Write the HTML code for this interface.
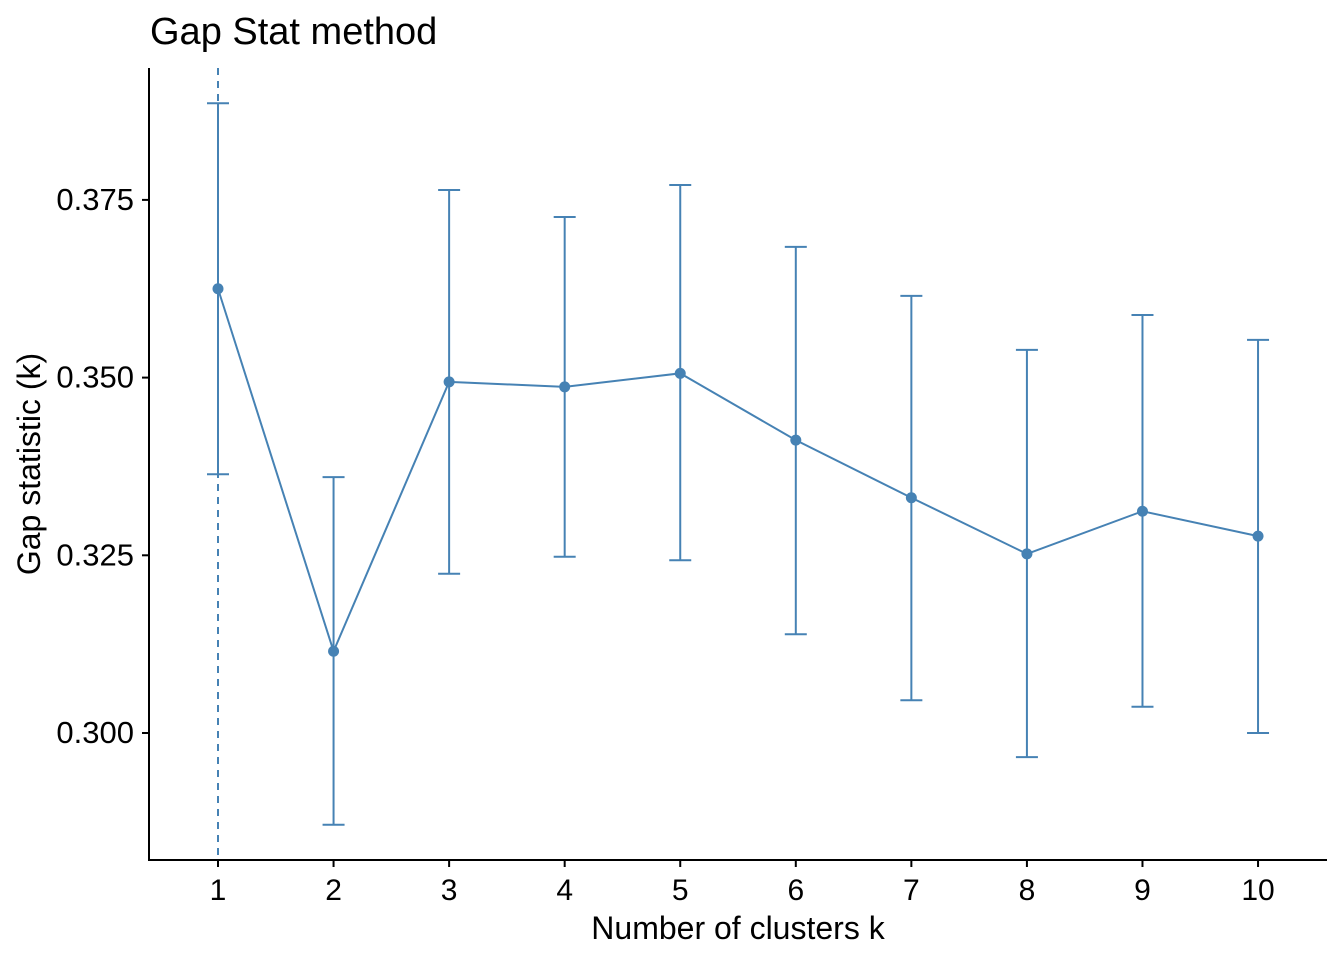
<!DOCTYPE html>
<html><head><meta charset="utf-8"><style>body{margin:0;background:#fff}svg{display:block;font-family:"Liberation Sans",Arial,sans-serif}</style></head>
<body>
<svg id="chart" width="1344" height="960" xmlns="http://www.w3.org/2000/svg">
<text x="150" y="44" font-size="38" fill="#000">Gap Stat method</text>
<g id="marks"></g>
<line x1="149" y1="68" x2="149" y2="861" stroke="#000" stroke-width="2"/>
<line x1="148" y1="860" x2="1327" y2="860" stroke="#000" stroke-width="2"/>
<g id="axes"></g>
<text x="738" y="939" font-size="32" text-anchor="middle">Number of clusters k</text>
<text transform="translate(40,464) rotate(-90)" font-size="32" text-anchor="middle">Gap statistic (k)</text>
</svg>
<script>
const categories=[1,2,3,4,5,6,7,8,9,10];
const gapValues=[0.3625,0.3115,0.3494,0.3487,0.3506,0.3412,0.3331,0.3252,0.3312,0.3277];
const upperValues=[0.3886,0.3360,0.3764,0.3726,0.3771,0.3684,0.3615,0.3539,0.3588,0.3553];
const lowerValues=[0.3364,0.2871,0.3224,0.3248,0.3243,0.3139,0.3046,0.2966,0.3037,0.3000];
const yTicks=[0.300,0.325,0.350,0.375];
const yTickLabels=["0.300","0.325","0.350","0.375"];
const optimalK=1;
const NS="http://www.w3.org/2000/svg";
const xS=k=>218+(k-1)*115.56;
const yS=v=>733-(v-0.300)*7108;
function mk(t,a,p){const e=document.createElementNS(NS,t);for(const k in a)e.setAttribute(k,a[k]);p.appendChild(e);return e;}
const marks=document.getElementById('marks'),axes=document.getElementById('axes');
const C="#4682B4";
let vl=mk('line',{x1:xS(optimalK),x2:xS(optimalK),y1:68,y2:860,stroke:C,'stroke-width':2,'stroke-dasharray':'7,6'},marks);


let pl=mk('polyline',{points:categories.map((k,i)=>xS(k)+','+yS(gapValues[i])).join(' '),fill:'none',stroke:C,'stroke-width':2},marks);


categories.forEach((k,i)=>{
 const x=xS(k);
 const g=mk('g',{},marks);
 
 
 mk('line',{x1:x,x2:x,y1:yS(upperValues[i]),y2:yS(lowerValues[i]),stroke:C,'stroke-width':2},g);
 mk('line',{x1:x-11,x2:x+11,y1:yS(upperValues[i]),y2:yS(upperValues[i]),stroke:C,'stroke-width':2},g);
 mk('line',{x1:x-11,x2:x+11,y1:yS(lowerValues[i]),y2:yS(lowerValues[i]),stroke:C,'stroke-width':2},g);
 const p=mk('circle',{cx:x,cy:yS(gapValues[i]),r:5.5,fill:C},marks);
 
 
 mk('line',{x1:x,x2:x,y1:860,y2:867,stroke:'#000','stroke-width':2},axes);
 const t=mk('text',{x:x,y:900,'font-size':30,'text-anchor':'middle'},axes);
 t.textContent=k;
 
 
});
yTicks.forEach((v,i)=>{
 const y=yS(v);
 mk('line',{x1:142,x2:149,y1:y,y2:y,stroke:'#000','stroke-width':2},axes);
 const t=mk('text',{x:134,y:y+10,'font-size':31,'text-anchor':'end'},axes);
 t.textContent=yTickLabels[i];
 
 
});
</script>
</body></html>
